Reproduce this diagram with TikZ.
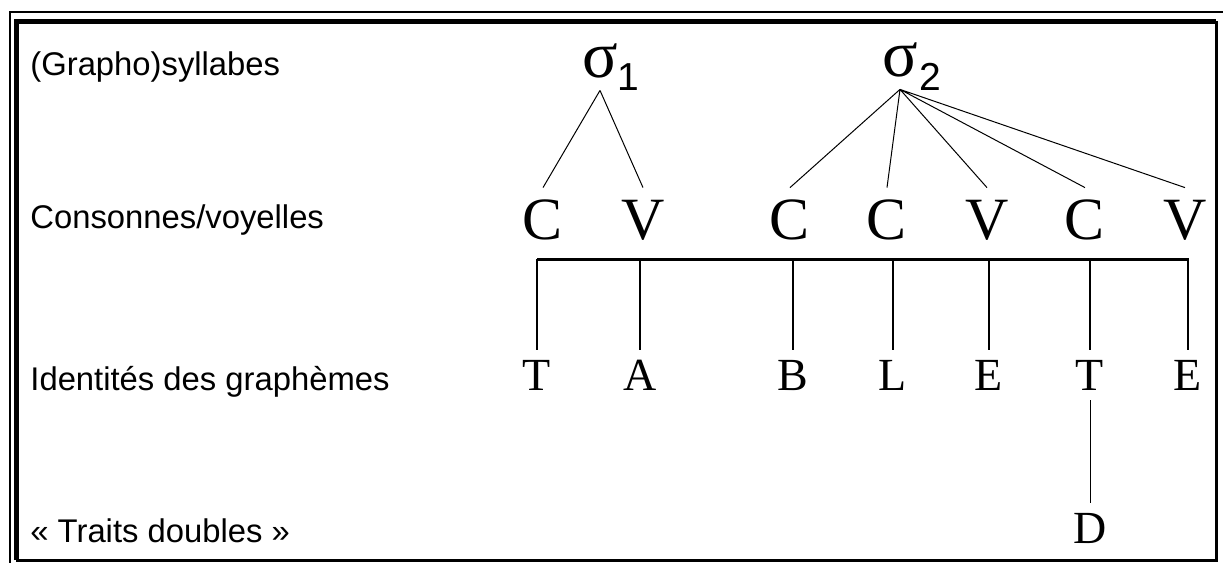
\documentclass[tikz,border=0pt]{standalone}
\usepackage{fontspec}
\setmainfont{Liberation Serif}
\newfontfamily\arial{Liberation Sans}

\begin{document}
\begin{tikzpicture}[x=0.5pt, y=-0.5pt]
\tikzstyle{every node}=[inner sep=0pt];
\tikzstyle{lab}=[anchor=base west, font=\arial\fontsize{16.4}{19}\selectfont];
\tikzstyle{cv}=[anchor=base, font=\fontsize{30}{36}\selectfont, text height=20pt, text depth=0pt, inner ysep=5.5pt];
\tikzstyle{gr}=[anchor=base, font=\fontsize{23}{28}\selectfont, text height=15pt, text depth=0pt, inner ysep=5pt];
\tikzstyle{sig}=[anchor=base, font=\fontsize{33}{40}\selectfont, text depth=0pt, inner ysep=6.5pt];
\tikzstyle{sub}=[anchor=base west, font=\arial\fontsize{19.5}{23}\selectfont];
\useasboundingbox (0,0) rectangle (1223,563);
% frame
\draw[line width=1pt] (9.5,563) -- (9.5,11.5) -- (1223,11.5);
\draw[line width=2.5pt] (16,560) -- (16,21) -- (1216,21);
\draw[line width=1.5pt] (1216,21) -- (1216,560) -- (16,560);
\node[lab] (l1) at (30,75) {(Grapho)syllabes};
\node[lab] (l2) at (30,228) {Consonnes/voyelles};
\node[lab] (l3) at (30,390) {Identités des graphèmes};
\node[lab] (l4) at (30,542) {« Traits doubles »};
\node[sig] (s1) at (600,77) {σ};
\node[sub] (n1) at (617,90) {1};
\node[sig] (s2) at (900,76) {σ};
\node[sub] (n2) at (919,90) {2};
\node[cv] (c1) at (543,239) {C};
\node[cv] (v1) at (643,239) {V};
\node[cv] (c2) at (790,239) {C};
\node[cv] (c3) at (887,239) {C};
\node[cv] (v2) at (987,239) {V};
\node[cv] (c4) at (1085,239) {C};
\node[cv] (v3) at (1185,239) {V};
\node[gr] (t1) at (537,390) {T};
\node[gr] (a1) at (640,390) {A};
\node[gr] (b1) at (793,390) {B};
\node[gr] (l5) at (893,390) {L};
\node[gr] (e1) at (989,390) {E};
\node[gr] (t2) at (1090,390) {T};
\node[gr] (e2) at (1188,390) {E};
\node[gr] (d1) at (1090,543) {D};
\coordinate (bl) at (537,259);
\coordinate (br) at (1189,259);
\draw[line width=0.5pt] (s1.south) -- (c1.north)
(s1.south) -- (v1.north)
(s2.south) -- (c2.north)
(s2.south) -- (c3.north)
(s2.south) -- (v2.north)
(s2.south) -- (c4.north)
(s2.south) -- (v3.north)
;
\draw[line width=1.5pt] (bl) -- (br);
\draw[line width=1.25pt] (t1.north |- bl) -- (t1.north)
(a1.north |- bl) -- (a1.north)
(b1.north |- bl) -- (b1.north)
(l5.north |- bl) -- (l5.north)
(e1.north |- bl) -- (e1.north)
(t2.north |- bl) -- (t2.north)
(e2.north |- bl) -- (e2.north)
;
\draw[line width=0.5pt] (t2.south) -- (d1.north);
\end{tikzpicture}
\end{document}
